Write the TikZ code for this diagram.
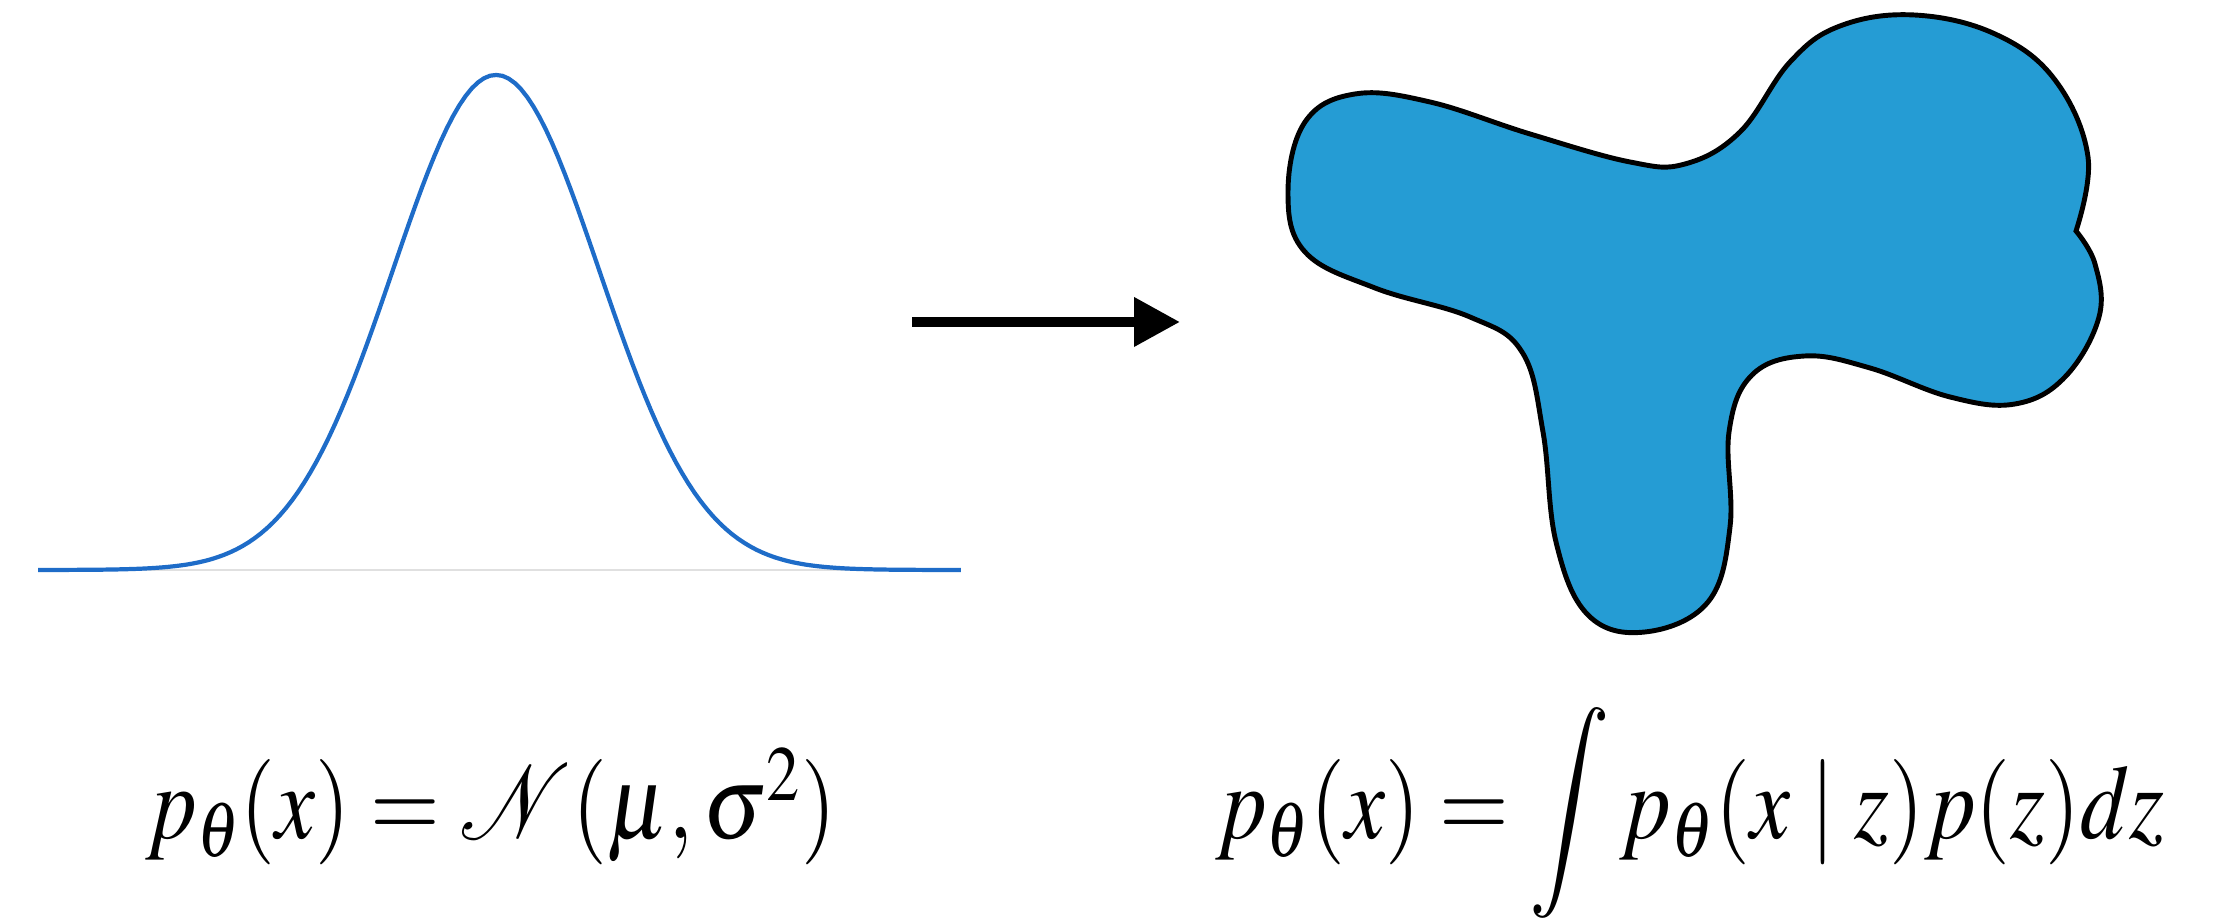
\documentclass[tikz,border=0pt]{standalone}
\usepackage{mathptmx}
\usetikzlibrary{arrows.meta}
\definecolor{curveblue}{RGB}{30,108,200}
\definecolor{blobblue}{RGB}{37,156,212}
\begin{document}
\begin{tikzpicture}[
  gauss/.style={curveblue, line width=1.2pt},
  axis/.style={black!12, line width=0.8pt},
  blob/.style={draw=black, fill=blobblue, line width=1.4pt},
  map/.style={line width=2.9pt, -{Triangle[length=4.6mm, width=4.7mm]}},
  eq/.style={anchor=base, inner sep=0pt, font=\fontsize{30}{36}\selectfont}]
\useasboundingbox (0,0) rectangle (22.23,9.22);
% simple gaussian
\draw[axis] (0.38,3.52) -- (9.61,3.52);
\draw[gauss] plot[domain=-4.58:4.65, samples=150] ({4.96+\x},{3.52+4.95*exp(-\x*\x/(2*1.03*1.03))});
% map to complex density
\coordinate (mapstart) at (9.12,6.0);
\coordinate (mapend) at (11.80,6.0);
\draw[map] (mapstart) -- (mapend);
% complex density
\draw[blob] plot[smooth, tension=0.65] coordinates {
  (20.76,6.91) (20.88,7.65) (20.55,8.42) (19.95,8.88) (19.14,9.07)
  (18.40,8.96) (17.90,8.60) (17.40,7.90) (16.85,7.58) (16.30,7.60)
  (15.30,7.88) (14.30,8.20) (13.55,8.28) (13.05,8.00) (12.88,7.30)
  (13.05,6.70) (13.75,6.34) (14.70,6.05) (15.22,5.70) (15.43,4.90)
  (15.56,3.80) (15.88,3.07) (16.45,2.90) (17.08,3.20) (17.30,3.95)
  (17.29,4.90) (17.52,5.47) (18.05,5.66) (18.70,5.54) (19.50,5.25)
  (20.15,5.18) (20.65,5.45) (20.99,6.05) (20.95,6.58) (20.76,6.91)} -- cycle;
% formulas
\node[eq] (normaleq) at (4.91,0.83) {\scalebox{0.85}[1]{$p_\theta(x) = \mathcal{N}(\mu,\sigma^2)$}};
\node[eq] (latenteq) at (16.90,0.83) {\scalebox{0.85}[1]{$\displaystyle p_\theta(x) = \int p_\theta(x \mid z)p(z)dz$}};
\end{tikzpicture}
\end{document}
